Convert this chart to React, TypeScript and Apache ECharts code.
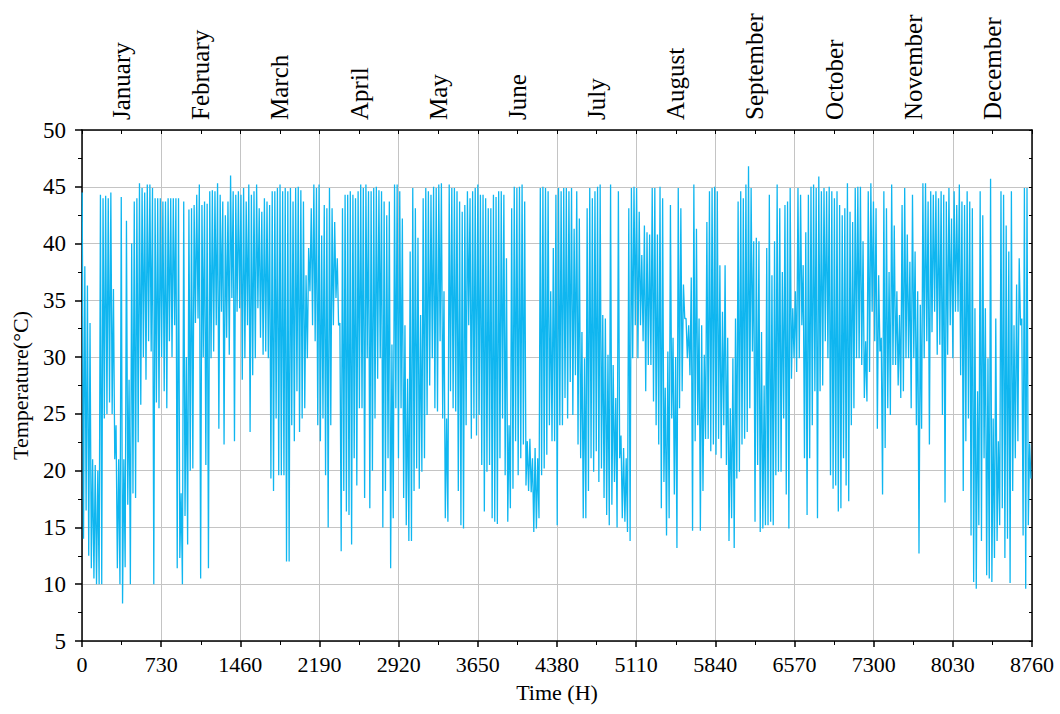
import React, { useEffect, useRef } from 'react';
import * as echarts from 'echarts';

const months = ['January', 'February', 'March', 'April', 'May', 'June', 'July', 'August', 'September', 'October', 'November', 'December'];

// Daily maximum temperature (°C)
const dailyHigh = [
  44.5, 38, 36.3, 33, 21, 20.5, 20, 44.3, 44, 44.2,
  44, 44.5, 36, 24, 21, 44.1, 21, 42, 28, 40,
  43.7, 44, 45.3, 44.9, 44.5, 45.2, 45.2, 44.9, 44, 44,
  44, 43.7, 43.7, 44, 44, 44, 44, 44, 18, 43.7,
  30, 43, 43.1, 43.4, 44.3, 45.2, 43.4, 43.7, 43.5, 44.6,
  44.7, 44.6, 45.3, 44.3, 43.7, 42.5, 43.7, 46, 44.6, 44.3,
  44.6, 44.3, 44.9, 43.7, 45.2, 44.3, 44.6, 45.2, 43.1, 42.8,
  44, 43.7, 43.4, 44.6, 44.6, 44.9, 45.2, 44.6, 44.9, 44.6,
  44.9, 43.7, 44.9, 45, 44.7, 43.7, 37.2, 39.6, 43.1, 45.2,
  44.9, 45.2, 40.7, 43.4, 43.1, 44.9, 43.1, 41.9, 38.7, 33,
  43.1, 44.3, 44.3, 44.6, 44.3, 44, 44.6, 45.2, 44.9, 45.2,
  44.6, 44.6, 44.9, 45, 44.7, 44.6, 43.7, 42.5, 43.7, 31.1,
  45.2, 45.2, 44.6, 42.2, 32.8, 28.1, 39.3, 44.9, 43.1, 40.5,
  33.7, 44, 44.9, 44.6, 44.3, 45, 44.9, 45.2, 45.3, 35.8,
  24.6, 45.2, 44.9, 44.9, 44.6, 43.7, 42.8, 43.4, 44.6, 44,
  44.6, 44.9, 45.2, 44.3, 44.3, 44, 43.1, 43.1, 44.3, 44.1,
  44.6, 44.6, 44.3, 38.7, 24, 43.1, 45, 44.9, 45, 45.2,
  43.7, 22.6, 22.8, 21.1, 22, 21.1, 44.9, 45, 44.9, 44.6,
  35.8, 39.6, 44.3, 44.9, 44.6, 44.9, 44.9, 44.6, 44.9, 41.3,
  44.6, 42.2, 32.2, 29.9, 43.1, 44.9, 44, 44.6, 45, 45.2,
  33.7, 33.4, 30.2, 45.2, 29.3, 26.4, 44.6, 23.1, 22, 21.1,
  43.1, 44.9, 45, 44.9, 42.8, 39, 41.6, 41, 40.8, 44.9,
  44.9, 40.8, 45, 44, 27.3, 30.5, 43.4, 31.7, 30, 44.9,
  43.1, 36.4, 33.4, 32.8, 37, 45.2, 41.3, 33.4, 32.8, 30.2,
  41.9, 44.6, 44.9, 45, 44.6, 38.1, 34, 38.1, 31.7, 25.5,
  29.9, 33.4, 43.7, 44.6, 44, 45.2, 46.8, 44.9, 40.2, 40.5,
  40.2, 32.2, 27.5, 39.6, 44.3, 37.2, 40.2, 45.2, 43.1, 37.5,
  43.4, 43.7, 44.9, 34.3, 35.8, 44.9, 44.3, 38.1, 41, 44.3,
  45, 45.2, 44.9, 45.9, 44.6, 44.9, 44.6, 45, 44.6, 44,
  44.6, 43.4, 42.5, 43.1, 45.3, 42.8, 41.9, 44.9, 45, 45,
  40.2, 31.4, 44.6, 45.3, 43.7, 43.1, 37.2, 31.7, 44.6, 43.1,
  37.5, 45.2, 41.6, 35.8, 33.7, 43.4, 44.9, 40.8, 38.4, 44.3,
  39.3, 35.8, 34.6, 45.3, 45.3, 43.7, 44.6, 44.3, 44.6, 44,
  44.6, 44.3, 43.7, 44.9, 42.2, 44.6, 43.4, 45.2, 43.7, 43.4,
  44.6, 43.7, 43.1, 34.3, 27, 44.6, 42.5, 34.3, 29.9, 45.7,
  24.6, 33.4, 22.6, 44.6, 44.3, 41.6, 39.3, 44.6, 32.8, 36.4,
  38.7, 33.4, 44.9, 44.9, 22.4,
];

// Daily minimum temperature (°C)
const dailyLow = [
  14, 16.5, 12.5, 11.4, 10.5, 10, 10, 10, 24.6, 25,
  26, 25, 21, 11.4, 10, 8.3, 11.5, 17, 10, 18,
  17.6, 22.5, 25.8, 30, 28, 31.4, 30.5, 10, 26, 25.5,
  30, 27, 25.5, 31.4, 30, 32.8, 11.4, 12.3, 10, 16,
  13.5, 20, 20.2, 33, 33.4, 10.5, 30, 20.5, 11.4, 29.9,
  30.5, 32.8, 23.7, 34, 22.3, 31.7, 30.2, 35.2, 22.6, 34,
  34.3, 28, 29.9, 32.8, 23.4, 28.4, 29.9, 34.3, 31.7, 30.2,
  30.5, 29.9, 19.3, 18.2, 24.6, 19.6, 19.6, 19.6, 12, 12,
  24, 22.6, 27, 23.4, 24.6, 25.5, 29.9, 35.8, 32.8, 31.4,
  24, 22.6, 24.6, 19.6, 15, 24, 32.8, 35.2, 32.8, 12.9,
  18.2, 16.4, 16.1, 13.5, 21.1, 18.7, 25.5, 25.5, 17.6, 29.9,
  16.7, 20, 24.6, 28.1, 29.9, 15, 18.2, 21.1, 11.4, 15.8,
  25.5, 21.1, 25.5, 17.6, 15.2, 13.8, 13.8, 18.2, 20.2, 18.4,
  19.9, 21.1, 24.9, 27.5, 29.9, 25.5, 25.2, 31.4, 24.6, 15.8,
  15.5, 27, 25.5, 25.2, 18.2, 15.2, 14.9, 24, 32.8, 22.8,
  24.6, 23.1, 24.9, 20.5, 16.4, 19.9, 20.5, 15.8, 15.5, 15.3,
  21.1, 24.6, 19.6, 15.5, 16.7, 18.4, 22.6, 19.6, 21.1, 22.3,
  18.7, 18.2, 18.1, 14.6, 14.9, 15.8, 19.6, 20.2, 21.4, 24,
  22.6, 22.6, 15.2, 24, 24, 26.4, 24.6, 27.8, 24.9, 28.4,
  22.3, 21.1, 15.8, 15.8, 18.2, 21.1, 19.9, 21.7, 19, 20.2,
  17.6, 16.1, 15.2, 17, 19, 15, 21.1, 15.8, 15.5, 14.6,
  13.8, 29.9, 32.8, 29.9, 32.8, 31.4, 27, 29.3, 29.3, 26.1,
  24, 22.3, 16.7, 19, 14.3, 15.8, 24.6, 17.9, 13.2, 25.5,
  27, 33.4, 29.9, 28.4, 14.7, 22.6, 24, 14.7, 18.2, 22.8,
  22.8, 21.7, 22.3, 21.4, 22.8, 21.1, 24, 20.5, 13.8, 15.8,
  13.2, 19.3, 19.9, 22.3, 22.8, 23.4, 25.5, 30.5, 15.5, 20.5,
  14.6, 14.9, 15.2, 15.2, 15.5, 15.2, 19.6, 19.9, 19.9, 24.6,
  17.9, 14.9, 28.1, 29.9, 28.7, 29.9, 32.8, 21.1, 16.1, 21.1,
  24, 27, 15.8, 27, 27.5, 31.4, 29.9, 19.6, 18.4, 18.7,
  16.4, 16.7, 21.1, 18.7, 17.3, 24, 25.5, 29.9, 29.9, 29.3,
  26.4, 26.1, 28.7, 34, 31.4, 23.7, 30.5, 17.9, 22, 25.5,
  24.9, 29.3, 29.3, 27.5, 26.4, 27, 29.9, 29.9, 25.5, 29.9,
  24, 12.7, 23.7, 29.9, 31.4, 22.3, 32.2, 34, 30.2, 31.1,
  24.9, 17.2, 30.2, 32.8, 29.9, 34, 34, 28.4, 18.2, 22.6,
  24.6, 14.3, 10.2, 9.6, 15.2, 13.8, 21.1, 10.8, 10.5, 10.2,
  12.3, 13.8, 15.2, 16.7, 12.3, 14, 10.1, 18.2, 21.1, 22.6,
  32.8, 14.3, 9.6, 15.2, 19.3,
];

const FONT = 'Liberation Serif';

export default function App() {
  const ref = useRef<HTMLDivElement>(null);

  useEffect(() => {
    document.body.style.margin = '0';
    const chart = echarts.init(ref.current!, null, { renderer: 'svg' });
    const data: [number, number][] = [];
    dailyHigh.forEach((h, d) => {
      data.push([d * 24 + 2, h]);
      data.push([d * 24 + 14, dailyLow[d]]);
    });
    const axisLineStyle = { color: '#000', width: 1.5 };
    chart.setOption({
      animation: false,
      grid: { left: 82, right: 28, top: 130, bottom: 73 },
      xAxis: [
        {
          type: 'value',
          position: 'bottom',
          min: 0,
          max: 8760,
          interval: 730,
          name: 'Time (H)',
          nameLocation: 'middle',
          nameGap: 40,
          nameTextStyle: { fontFamily: FONT, fontSize: 22, color: '#000' },
          axisLine: { show: true, onZero: false, lineStyle: axisLineStyle },
          axisTick: { show: true, length: 6, lineStyle: axisLineStyle },
          minorTick: { show: true, splitNumber: 2, length: 4, lineStyle: { color: '#000', width: 1 } },
          axisLabel: { fontFamily: FONT, fontSize: 22, color: '#000', margin: 12, formatter: (v: number) => String(v) },
          splitLine: { show: true, lineStyle: { color: '#c4c4c4', width: 1 } },
        },
        {
          type: 'value',
          position: 'top',
          min: 0,
          max: 8760,
          interval: 365,
          axisLine: { show: true, onZero: false, lineStyle: axisLineStyle },
          axisTick: { show: true, inside: true, length: 4, lineStyle: { color: '#000', width: 1 } },
          axisLabel: {
            fontFamily: FONT,
            fontSize: 25,
            color: '#000',
            rotate: -90,
            margin: 10,
            formatter: (v: number) => (v % 730 === 365 ? months[(v - 365) / 730] : ''),
          },
          splitLine: { show: false },
        },
      ],
      yAxis: [
        {
          type: 'value',
          min: 5,
          max: 50,
          interval: 5,
          name: 'Temperature(°C)',
          nameLocation: 'middle',
          nameGap: 51,
          nameTextStyle: { fontFamily: FONT, fontSize: 22, color: '#000' },
          axisLine: { show: true, onZero: false, lineStyle: axisLineStyle },
          axisTick: { show: true, length: 7, lineStyle: axisLineStyle },
          minorTick: { show: true, splitNumber: 2, length: 4, lineStyle: { color: '#000', width: 1 } },
          axisLabel: { fontFamily: FONT, fontSize: 23, color: '#000', margin: 16 },
          splitLine: { show: true, lineStyle: { color: '#c4c4c4', width: 1 } },
        },
        {
          type: 'value',
          position: 'right',
          min: 5,
          max: 50,
          interval: 2.5,
          axisLine: { show: true, onZero: false, lineStyle: axisLineStyle },
          axisTick: { show: true, inside: true, length: 3, lineStyle: { color: '#000', width: 1 } },
          axisLabel: { show: false },
          splitLine: { show: false },
        },
      ],
      series: [
        {
          type: 'line',
          xAxisIndex: 0,
          yAxisIndex: 0,
          data,
          showSymbol: false,
          symbol: 'none',
          lineStyle: { color: '#0fb6f0', width: 1.3 },
          itemStyle: { color: '#0fb6f0' },
        },
      ],
    });
    return () => chart.dispose();
  }, []);

  return <div ref={ref} style={{ width: 1060, height: 714 }} />;
}
